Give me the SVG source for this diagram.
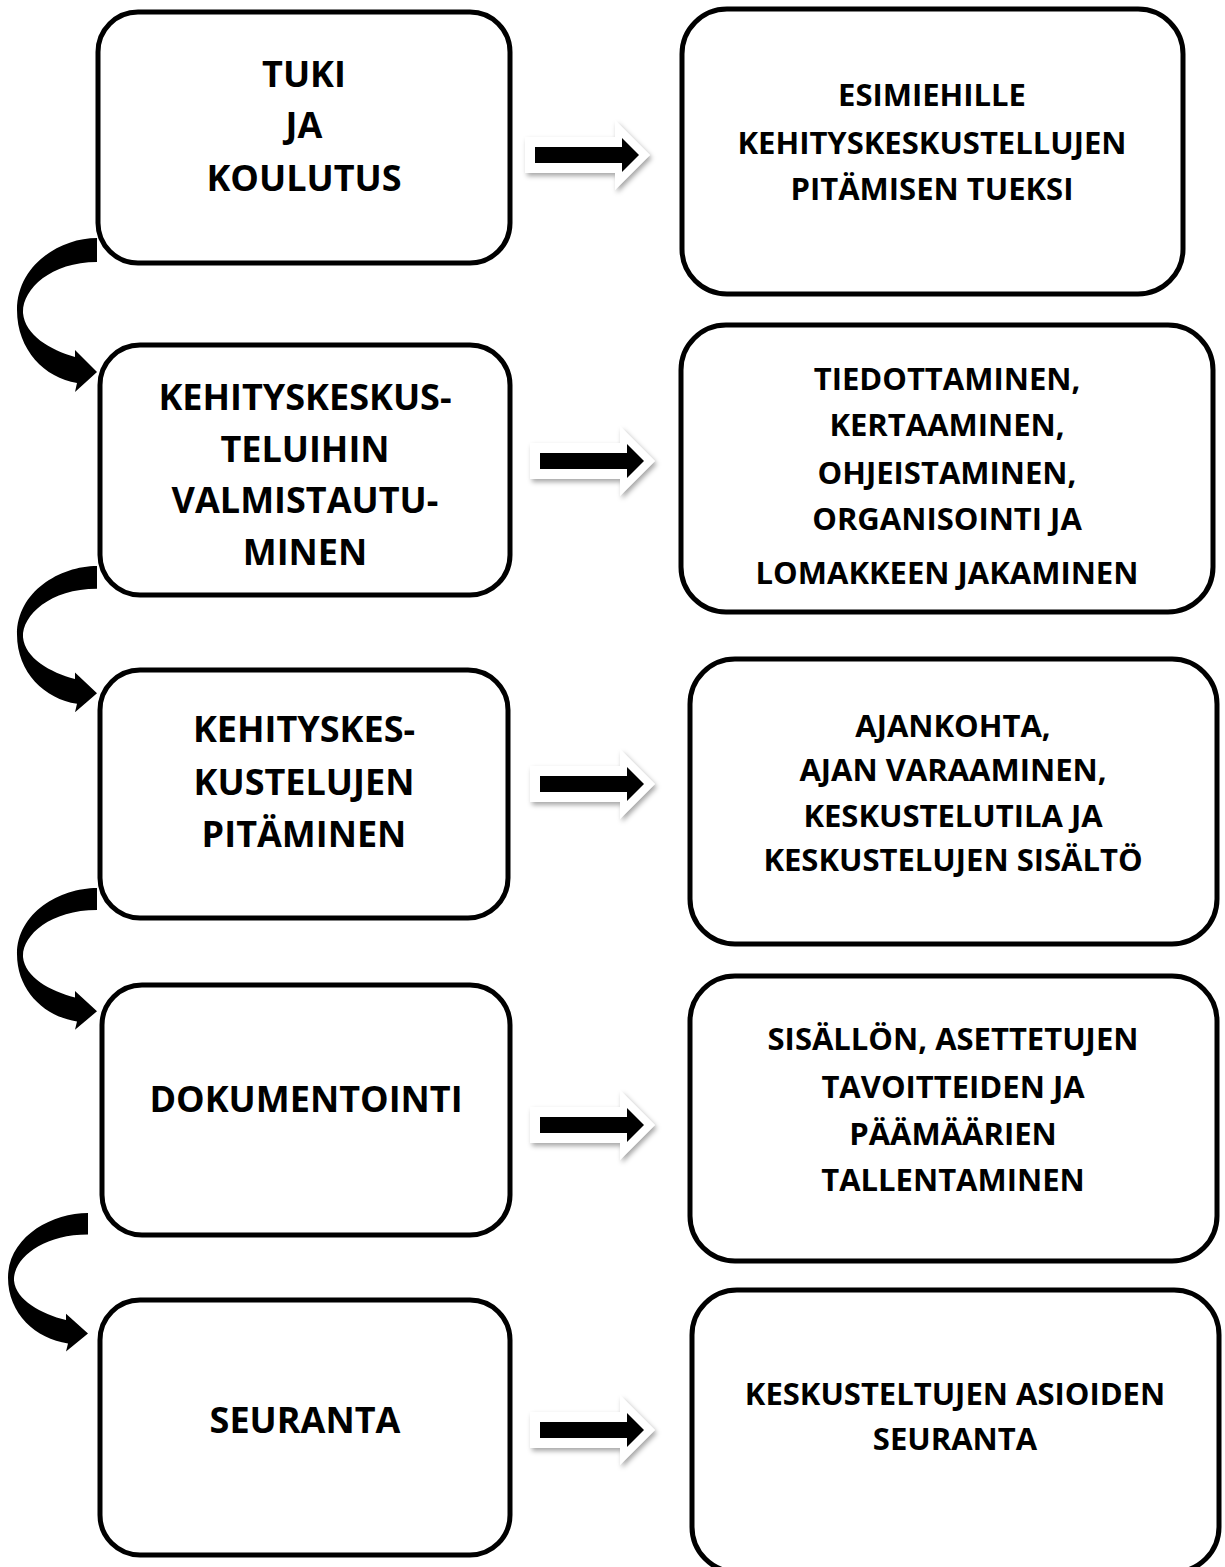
<svg xmlns="http://www.w3.org/2000/svg" width="1225" height="1567" viewBox="0 0 1225 1567">
<style>
.box{fill:#fff;stroke:#000;stroke-width:5}
.lt{font-family:"Open Sans","Liberation Sans",sans-serif;font-weight:bold;font-size:36px;text-anchor:middle;fill:#000}
.rt{font-family:"Open Sans","Liberation Sans",sans-serif;font-weight:bold;font-size:31px;text-anchor:middle;fill:#000}
.curve{fill:#000}
</style>
<defs>
<filter id="sh" x="-20%" y="-30%" width="150%" height="170%">
<feDropShadow dx="2" dy="3" stdDeviation="2.5" flood-color="#000" flood-opacity="0.35"/>
</filter>
<g id="harrow">
<path d="M0,-18 L90,-18 L90,-35 L125,0 L90,35 L90,18 L0,18 Z" fill="#fff" filter="url(#sh)"/>
<path d="M10,-8 L97,-8 L97,-17 L114,0 L97,17 L97,8 L10,8 Z" fill="#000"/>
</g>
<path id="carrow" d="M0,0 C-37,0 -80,27 -80,72 C-80,112 -52,140 -20,145 L-22,154 L0,134 L-22,112 L-22,119 C-47,112 -72,97 -74,75 C-75,52 -47,24 0,24 Z"/>
</defs>

<g id="connectors">
<use href="#carrow" class="curve" transform="translate(97,238)"/>
<use href="#carrow" class="curve" transform="translate(97,566) scale(1,0.95)"/>
<use href="#carrow" class="curve" transform="translate(97,888) scale(1,0.92)"/>
<use href="#carrow" class="curve" transform="translate(88,1213) scale(1,0.9)"/>
<use href="#harrow" transform="translate(525,155)"/>
<use href="#harrow" transform="translate(530,461)"/>
<use href="#harrow" transform="translate(530,784)"/>
<use href="#harrow" transform="translate(530,1125)"/>
<use href="#harrow" transform="translate(530,1430)"/>
</g>

<g id="node-l1">
<rect class="box" x="98" y="12" width="412" height="251" rx="40"/>
<text class="lt" x="304" y="87">TUKI</text>
<text class="lt" x="304" y="138">JA</text>
<text class="lt" x="304" y="191">KOULUTUS</text>
</g>
<g id="node-l2">
<rect class="box" x="100" y="345" width="410" height="250" rx="40"/>
<text class="lt" x="305" y="410">KEHITYSKESKUS-</text>
<text class="lt" x="305" y="462">TELUIHIN</text>
<text class="lt" x="305" y="513">VALMISTAUTU-</text>
<text class="lt" x="305" y="565">MINEN</text>
</g>
<g id="node-l3">
<rect class="box" x="100" y="670" width="408" height="248" rx="40"/>
<text class="lt" x="304" y="742">KEHITYSKES-</text>
<text class="lt" x="304" y="795">KUSTELUJEN</text>
<text class="lt" x="304" y="847">PITÄMINEN</text>
</g>
<g id="node-l4">
<rect class="box" x="102" y="985" width="408" height="250" rx="40"/>
<text class="lt" x="306" y="1112">DOKUMENTOINTI</text>
</g>
<g id="node-l5">
<rect class="box" x="100" y="1300" width="410" height="255" rx="40"/>
<text class="lt" x="305" y="1433">SEURANTA</text>
</g>

<g id="node-r1">
<rect class="box" x="682" y="9" width="501" height="285" rx="45"/>
<text class="rt" x="932" y="106">ESIMIEHILLE</text>
<text class="rt" x="932" y="154">KEHITYSKESKUSTELLUJEN</text>
<text class="rt" x="932" y="200">PITÄMISEN TUEKSI</text>
</g>
<g id="node-r2">
<rect class="box" x="681" y="325" width="532" height="287" rx="45"/>
<text class="rt" x="947" y="390">TIEDOTTAMINEN,</text>
<text class="rt" x="947" y="436">KERTAAMINEN,</text>
<text class="rt" x="947" y="484">OHJEISTAMINEN,</text>
<text class="rt" x="947" y="530">ORGANISOINTI JA</text>
<text class="rt" x="947" y="584">LOMAKKEEN JAKAMINEN</text>
</g>
<g id="node-r3">
<rect class="box" x="690" y="659" width="527" height="285" rx="45"/>
<text class="rt" x="953" y="737">AJANKOHTA,</text>
<text class="rt" x="953" y="781">AJAN VARAAMINEN,</text>
<text class="rt" x="953" y="827">KESKUSTELUTILA JA</text>
<text class="rt" x="953" y="871">KESKUSTELUJEN SISÄLTÖ</text>
</g>
<g id="node-r4">
<rect class="box" x="690" y="976" width="527" height="285" rx="45"/>
<text class="rt" x="953" y="1050">SISÄLLÖN, ASETTETUJEN</text>
<text class="rt" x="953" y="1098">TAVOITTEIDEN JA</text>
<text class="rt" x="953" y="1145">PÄÄMÄÄRIEN</text>
<text class="rt" x="953" y="1191">TALLENTAMINEN</text>
</g>
<g id="node-r5">
<rect class="box" x="692" y="1290" width="527" height="282" rx="45"/>
<text class="rt" x="955" y="1405">KESKUSTELTUJEN ASIOIDEN</text>
<text class="rt" x="955" y="1450">SEURANTA</text>
</g>
</svg>
